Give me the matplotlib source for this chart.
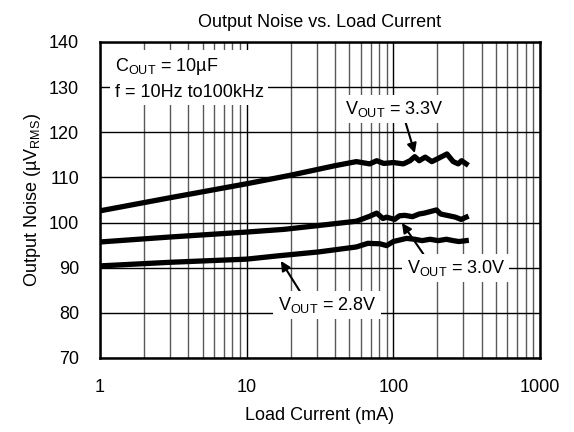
import numpy as np
import matplotlib
matplotlib.use('Agg')
import matplotlib.pyplot as plt
from matplotlib.ticker import LogLocator, FixedLocator, NullFormatter

plt.rcParams['font.family'] = ['Liberation Sans', 'DejaVu Sans']
plt.rcParams['mathtext.fontset'] = 'custom'
plt.rcParams['mathtext.rm'] = 'Liberation Sans'

# donnees (courant en mA, bruit en uVrms)
i_33 = [1, 3, 10, 20, 40, 56, 69, 77, 86, 100, 117, 130, 140, 150, 165, 183, 202, 232, 256, 277, 292, 314]
n_33 = [102.6, 105.5, 108.6, 110.5, 112.6, 113.5, 113.0, 113.7, 113.1, 113.3, 113.0, 113.7, 114.6, 113.7,
        114.5, 113.5, 114.2, 115.2, 113.5, 113.0, 113.7, 113.0]

i_30 = [1, 3, 10, 18, 30, 56, 69, 77, 85, 90, 102, 110, 120, 135, 150, 163, 197, 210, 240, 265, 290, 314]
n_30 = [95.7, 96.8, 97.9, 98.5, 99.3, 100.3, 101.4, 102.1, 100.9, 101.2, 100.7, 101.5, 101.6, 101.3,
        101.9, 102.1, 102.8, 101.9, 101.5, 101.2, 100.7, 101.2]

i_28 = [1, 3, 10, 16, 31, 56, 67, 81, 90, 100, 123, 140, 157, 178, 202, 230, 256, 280, 314]
n_28 = [90.4, 91.2, 91.9, 92.6, 93.5, 94.6, 95.4, 95.3, 94.9, 95.8, 96.5, 96.3, 96.0, 96.3,
        96.0, 96.3, 96.0, 95.8, 96.0]

x_ticks = [1, 10, 100, 1000]
y_ticks = [70, 80, 90, 100, 110, 120, 130, 140]

fig = plt.figure(figsize=(5.74, 4.32), dpi=100)
ax = fig.add_axes([100/574, 74/432, 440/574, 316/432])

ax.plot(i_33, n_33, color='black', lw=3.8, solid_joinstyle='round', zorder=3)
ax.plot(i_30, n_30, color='black', lw=3.8, solid_joinstyle='round', zorder=3)
ax.plot(i_28, n_28, color='black', lw=3.8, solid_joinstyle='round', zorder=3)

ax.set_xscale('log')
ax.set_xlim(1, 1000)
ax.set_ylim(70, 140)
ax.xaxis.set_major_locator(FixedLocator(x_ticks))
ax.set_xticklabels([str(t) for t in x_ticks])
ax.xaxis.set_minor_locator(LogLocator(base=10, subs=np.arange(2, 10)))
ax.xaxis.set_minor_formatter(NullFormatter())
ax.set_yticks(y_ticks)

ax.grid(True, which='major', color='black', lw=1.0)
ax.grid(True, which='minor', axis='x', color='0.35', lw=1.0)
ax.tick_params(which='both', length=0, labelsize=13, pad=15)
for s in ax.spines.values():
    s.set_linewidth(1.8)

ax.set_title('Output Noise vs. Load Current', fontsize=13, pad=11)
ax.set_xlabel('Load Current (mA)', fontsize=13, labelpad=8)
ax.set_ylabel('Output Noise (µV$_{\\mathrm{RMS}}$)', fontsize=13, labelpad=4)

boite = dict(facecolor='white', edgecolor='none', pad=3)
ax.text(0.033, 0.955, 'C$_{\\mathrm{OUT}}$ = 10µF\nf = 10Hz to100kHz', transform=ax.transAxes,
        ha='left', va='top', fontsize=13, linespacing=1.5, bbox=boite, zorder=4)

ax.annotate('V$_{\\mathrm{OUT}}$ = 3.3V', xy=(140, 115.4), xytext=(102, 125.2),
            ha='center', va='center', fontsize=13, bbox=boite, zorder=5,
            arrowprops=dict(arrowstyle='-|>', color='black', lw=1.5, mutation_scale=14,
                            shrinkA=0, shrinkB=0, relpos=(0.6, 0)))
ax.annotate('V$_{\\mathrm{OUT}}$ = 3.0V', xy=(114.5, 99.9), xytext=(267, 89.9),
            ha='center', va='center', fontsize=13, bbox=boite, zorder=5,
            arrowprops=dict(arrowstyle='-|>', color='black', lw=1.5, mutation_scale=14,
                            shrinkA=0, shrinkB=0, relpos=(0.2, 1)))
ax.annotate('V$_{\\mathrm{OUT}}$ = 2.8V', xy=(17.1, 91.5), xytext=(35.3, 81.7),
            ha='center', va='center', fontsize=13, bbox=boite, zorder=5,
            arrowprops=dict(arrowstyle='-|>', color='black', lw=1.5, mutation_scale=14,
                            shrinkA=0, shrinkB=0, relpos=(0.25, 1)))

plt.savefig('out.png', dpi=100)
